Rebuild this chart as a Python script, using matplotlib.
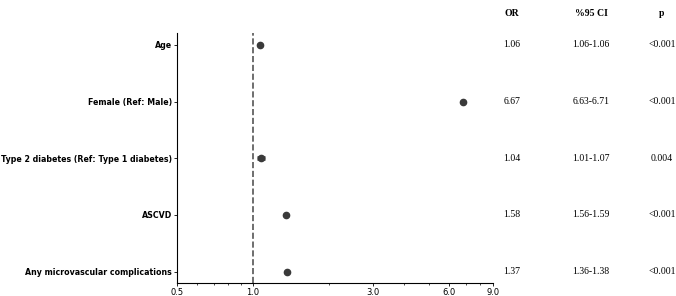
import matplotlib.pyplot as plt
import matplotlib.transforms as mtransforms
from matplotlib.ticker import FixedLocator, LogLocator, NullFormatter

# row labels, top to bottom
labels = ["Age", "Female (Ref: Male)", "Type 2 diabetes (Ref: Type 1 diabetes)",
          "ASCVD", "Any microvascular complications"]
# plotted positions as they appear on the chart
point = [1.065, 6.85, 1.078, 1.36, 1.365]
lower = [1.06, 6.80, 1.04, 1.355, 1.36]
upper = [1.07, 6.90, 1.115, 1.365, 1.37]
# table columns
or_txt = ["1.06", "6.67", "1.04", "1.58", "1.37"]
ci_txt = ["1.06-1.06", "6.63-6.71", "1.01-1.07", "1.56-1.59", "1.36-1.38"]
p_txt = ["<0.001", "<0.001", "0.004", "<0.001", "<0.001"]
xticks = [0.5, 1.0, 3.0, 6.0, 9.0]

fig = plt.figure(figsize=(6.76, 2.96), dpi=100)
ax = fig.add_axes([177/676, 13/296, 316/676, 250/296])

ypos = list(range(len(labels)))
xerr = [[p - l for p, l in zip(point, lower)], [u - p for p, u in zip(point, upper)]]
ax.errorbar(point, ypos, xerr=xerr, fmt='o', color='#3a3a3a', ms=4.5,
            elinewidth=3.3, capsize=0, zorder=3)
ax.axvline(1.0, color='#555555', linestyle='--', linewidth=1.2)

ax.set_xscale('log')
ax.set_xlim(0.5, 9.0)
ax.xaxis.set_major_locator(FixedLocator(xticks))
ax.xaxis.set_minor_locator(LogLocator(subs=range(2, 10)))
ax.xaxis.set_minor_formatter(NullFormatter())
ax.set_xticklabels([f"{v:.1f}" for v in xticks], fontsize=6)
ax.tick_params(axis='x', which='major', length=2.5, width=0.6, pad=1)
ax.tick_params(axis='x', which='minor', length=1.5, width=0.5)

ax.set_ylim(len(labels) - 1 + 0.2, -0.21)
ax.set_yticks(ypos)
ax.set_yticklabels(labels, fontsize=5.7, fontweight='bold')
ax.tick_params(axis='y', length=2.5, width=0.6, pad=1)

ax.spines['top'].set_visible(False)
ax.spines['right'].set_visible(False)
ax.spines['left'].set_linewidth(0.8)
ax.spines['bottom'].set_linewidth(0.8)

# table on the right
tr = mtransforms.blended_transform_factory(fig.transFigure, ax.transData)
cols = [(512/676, "OR", or_txt), (591/676, "%95 CI", ci_txt), (662/676, "p", p_txt)]
for cx, head, vals in cols:
    fig.text(cx, 1 - 13/296, head, ha='center', va='center', fontsize=7,
             fontweight='bold', family='Liberation Serif')
    for y, v in zip(ypos, vals):
        ax.text(cx, y, v, transform=tr, ha='center', va='center', fontsize=7,
                family='Liberation Serif', clip_on=False)

fig.savefig('out.png', dpi=100)
